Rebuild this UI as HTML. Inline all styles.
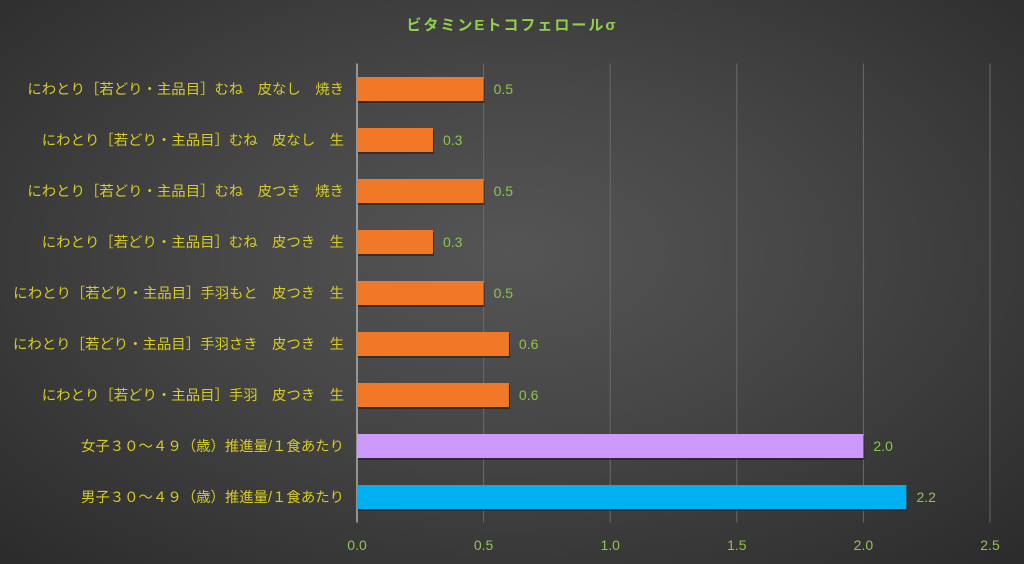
<!DOCTYPE html>
<html><head><meta charset="utf-8">
<style>
html,body{margin:0;padding:0;}
body{width:1024px;height:564px;overflow:hidden;background:radial-gradient(ellipse 70% 75% at 50% 45%,#555 0%,#474747 40%,#2c2c2c 100%);font-family:"Liberation Sans","Noto Sans CJK JP",sans-serif;}
svg{position:absolute;left:0;top:0;}
</style></head>
<body>
<svg id="chart" width="1024" height="564">
<text x="512" y="30" text-anchor="middle" fill="#8fd14f" font-weight="bold" font-size="15" letter-spacing="2">ビタミンEトコフェロールσ</text>
</svg>
<script>
const categories=["にわとり［若どり・主品目］むね　皮なし　焼き","にわとり［若どり・主品目］むね　皮なし　生","にわとり［若どり・主品目］むね　皮つき　焼き","にわとり［若どり・主品目］むね　皮つき　生","にわとり［若どり・主品目］手羽もと　皮つき　生","にわとり［若どり・主品目］手羽さき　皮つき　生","にわとり［若どり・主品目］手羽　皮つき　生","女子３０～４９（歳）推進量/１食あたり","男子３０～４９（歳）推進量/１食あたり"];
const values=[0.5,0.3,0.5,0.3,0.5,0.6,0.6,2.0,2.17];
const valueLabels=["0.5","0.3","0.5","0.3","0.5","0.6","0.6","2.0","2.2"];
const barColors=["#f07826","#f07826","#f07826","#f07826","#f07826","#f07826","#f07826","#cc99ff","#00b0f0"];
const ticks=[0,0.5,1.0,1.5,2.0,2.5];
const tickLabels=["0.0","0.5","1.0","1.5","2.0","2.5"];
const NS="http://www.w3.org/2000/svg";
const svg=document.getElementById('chart');
const X0=357,X1=990,Y0=63.5,Y1=522.5,XMAX=2.5;
const xs=v=>X0+(v/XMAX)*(X1-X0);
const band=(Y1-Y0)/categories.length;
const ys=i=>Y0+band*i+band/2;
function mk(t,a){const e=document.createElementNS(NS,t);for(const k in a)e.setAttribute(k,a[k]);svg.appendChild(e);return e;}
ticks.forEach((t,i)=>{
  const g=mk('line',{x1:xs(t),x2:xs(t),y1:Y0,y2:Y1,stroke:i===0?'#b0b0b0':'#6a6a6a','stroke-width':i===0?1.5:1});
  
  
  const l=mk('text',{x:xs(t),y:550,'text-anchor':'middle',fill:'#8fc34f','font-size':14});
  l.textContent=tickLabels[i];
  
  
});
categories.forEach((c,i)=>{
  const y=ys(i),h=24;
  const sh=mk('rect',{x:X0+1,y:y-h/2+2,width:xs(values[i])-X0,height:h,fill:'#1e1e1e',opacity:0.6});
  
  
  const b=mk('rect',{x:X0,y:y-h/2,width:xs(values[i])-X0,height:h,fill:barColors[i]});
  
  
  const v=mk('text',{x:xs(values[i])+10,y:y+5,fill:'#8fc34f','font-size':14});
  v.textContent=valueLabels[i];
  
  
  const t=mk('text',{x:344,y:y+5,'text-anchor':'end',fill:'#d8cc20','font-size':14.4});
  t.textContent=c;
  
  
});
</script>
</body></html>
